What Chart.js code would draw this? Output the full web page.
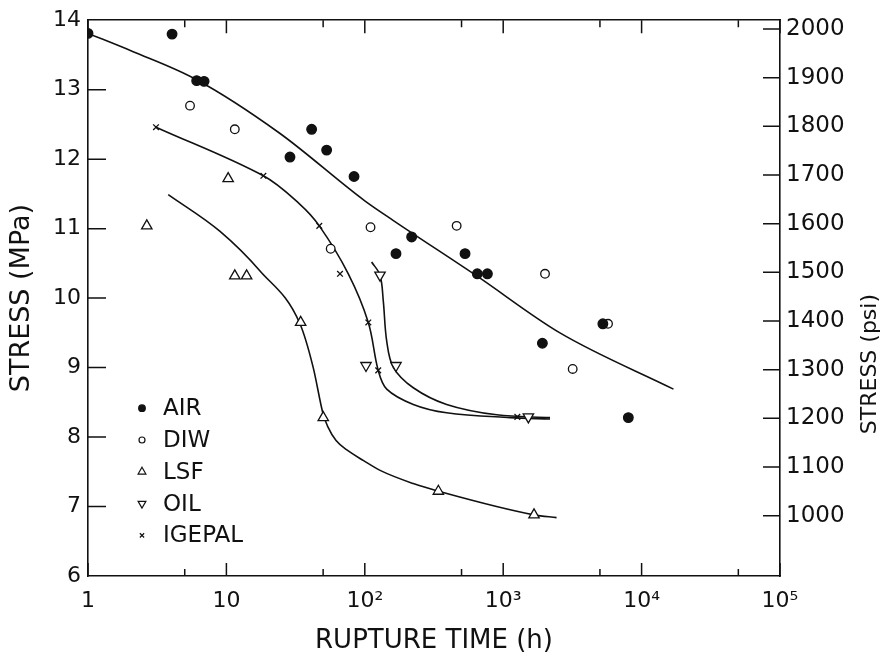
<!DOCTYPE html>
<html><head><meta charset="utf-8">
<script src="https://cdn.jsdelivr.net/npm/chart.js@4.4.0/dist/chart.umd.min.js"></script>
<style>html,body{margin:0;padding:0;background:#fff}#wrap{width:886px;height:659px}</style>
</head><body><div id="wrap"><canvas id="c"></canvas></div>
<script>
// ---- data ----
const seriesNames = ['AIR', 'DIW', 'LSF', 'OIL', 'IGEPAL'];

const airTime   = [1, 4.05, 6.1, 6.9, 28.8, 41.3, 53, 83.6, 168, 218, 530, 650, 769, 1919, 5250, 8020];
const airStress = [13.81, 13.80, 13.13, 13.12, 12.03, 12.43, 12.13, 11.75, 10.64, 10.88, 10.64, 10.35, 10.35, 9.35, 9.63, 8.28];

const diwTime   = [5.46, 11.5, 56.7, 110, 461, 2005, 3177, 5720];
const diwStress = [12.77, 12.43, 10.71, 11.02, 11.04, 10.35, 8.98, 9.63];

const lsfTime   = [2.66, 10.3, 11.5, 14.0, 34.4, 50.1, 340, 1670];
const lsfStress = [11.04, 11.72, 10.32, 10.32, 9.65, 8.28, 7.22, 6.88];

const oilTime   = [102, 128.8, 168, 1520];
const oilStress = [9.03, 10.33, 9.03, 8.29];

const igTime    = [3.1, 18.5, 46.9, 66.2, 106, 125, 1265];
const igStress  = [12.46, 11.76, 11.04, 10.35, 9.65, 8.96, 8.29];

// hand-drawn fit curves
const airFitTime   = [1, 2.1, 6, 24, 100, 160, 644, 2570, 17000];
const airFitStress = [13.81, 13.55, 13.15, 12.38, 11.4, 11.12, 10.32, 9.5, 8.69];

const igFitTime    = [3.1, 18.5, 34, 46.9, 76, 106, 125, 144, 224, 390, 1120, 2180];
const igFitStress  = [12.46, 11.76, 11.35, 11.04, 10.35, 9.65, 8.96, 8.69, 8.47, 8.35, 8.28, 8.26];

const oilFitTime   = [112, 128.8, 136, 144, 161, 224, 390, 898, 2180];
const oilFitStress = [10.52, 10.33, 9.96, 9.38, 9.0, 8.71, 8.47, 8.32, 8.28];

const lsfFitTime   = [3.8, 9, 17.5, 34, 42.4, 50, 54, 62, 76, 98, 129, 224, 340, 1670, 2430];
const lsfFitStress = [11.49, 10.96, 10.39, 9.63, 9.0, 8.33, 8.15, 7.95, 7.8, 7.66, 7.52, 7.33, 7.22, 6.88, 6.84];

// ticks
const xTickValues = [1, 10, 100, 1000, 10000, 100000];
const xTickLabels = ['1', '10', '10²', '10³', '10⁴', '10⁵'];
const xMinorTicks = [5, 50, 500, 5000, 50000];
const mpaTicks = [6, 7, 8, 9, 10, 11, 12, 13, 14];
const psiTicks = [1000, 1100, 1200, 1300, 1400, 1500, 1600, 1700, 1800, 1900, 2000];
const psiRange = [876, 2018];

// ---- build ----
const INK = '#111';
const pts = (xs, ys) => xs.map((x, i) => ({x, y: ys[i]}));

function markers(label, xs, ys, style) {
  return Object.assign({
    type: 'scatter', label, data: pts(xs, ys), showLine: false,
    borderColor: INK, pointBorderColor: INK, borderWidth: 1.3, pointBorderWidth: 1.3,
    isMarker: true, order: 1
  }, style);
}
function curve(xs, ys, smooth) {
  return Object.assign({
    type: 'line', label: '', data: pts(xs, ys), borderColor: INK, borderWidth: 1.6,
    pointRadius: 0, fill: false, order: 2, isMarker: false
  }, smooth);
}

const datasets = [
  markers(seriesNames[0], airTime, airStress, {pointStyle: 'circle', pointRadius: 4.8, pointBackgroundColor: INK, backgroundColor: INK}),
  markers(seriesNames[1], diwTime, diwStress, {pointStyle: 'circle', pointRadius: 4.3, pointBackgroundColor: '#fff', backgroundColor: '#fff'}),
  markers(seriesNames[2], lsfTime, lsfStress, {pointStyle: 'triangle', pointRadius: 6, pointBackgroundColor: '#fff', backgroundColor: '#fff'}),
  markers(seriesNames[3], oilTime, oilStress, {pointStyle: 'triangle', pointRotation: 180, pointRadius: 6, pointBackgroundColor: '#fff', backgroundColor: '#fff'}),
  markers(seriesNames[4], igTime, igStress, {pointStyle: 'crossRot', pointRadius: 4, pointBackgroundColor: INK, backgroundColor: INK}),
  curve(airFitTime, airFitStress, {cubicInterpolationMode: 'monotone'}),
  curve(igFitTime, igFitStress, {tension: 0.35}),
  curve(oilFitTime, oilFitStress, {tension: 0.35}),
  curve(lsfFitTime, lsfFitStress, {cubicInterpolationMode: 'monotone'})
];

const frameDecor = {
  id: 'frameDecor',
  afterDatasetsDraw(chart) {
    const {ctx, chartArea: a, scales} = chart;
    ctx.save();
    ctx.strokeStyle = INK; ctx.lineWidth = 1.5; ctx.lineCap = 'butt';
    ctx.beginPath();
    xTickValues.forEach(v => {
      const p = scales.x.getPixelForValue(v);
      ctx.moveTo(p, a.bottom); ctx.lineTo(p, a.bottom - 13);
      ctx.moveTo(p, a.top); ctx.lineTo(p, a.top + 13);
    });
    xMinorTicks.forEach(v => {
      const p = scales.x.getPixelForValue(v);
      ctx.moveTo(p, a.bottom); ctx.lineTo(p, a.bottom - 7);
      ctx.moveTo(p, a.top); ctx.lineTo(p, a.top + 7);
    });
    mpaTicks.slice(1, -1).forEach(v => {
      const p = scales.y.getPixelForValue(v);
      ctx.moveTo(a.left, p); ctx.lineTo(a.left + 18, p);
    });
    psiTicks.forEach(v => {
      const p = scales.y2.getPixelForValue(v);
      ctx.moveTo(a.right, p); ctx.lineTo(a.right - 17, p);
    });
    ctx.stroke();
    ctx.restore();

    // right axis title, reading bottom-to-top
    ctx.save();
    ctx.fillStyle = INK; ctx.font = '22px "DejaVu Sans"';
    ctx.textAlign = 'center'; ctx.textBaseline = 'middle';
    ctx.translate(a.right + 90, (a.top + a.bottom) / 2 + 66);
    ctx.rotate(-Math.PI / 2);
    ctx.fillText('STRESS (psi)', 0, 0);
    ctx.restore();

    // legend inside the plot
    ctx.save();
    ctx.font = '23px "DejaVu Sans"'; ctx.textAlign = 'left'; ctx.textBaseline = 'middle';
    let row = 0;
    chart.data.datasets.forEach(ds => {
      if (!ds.isMarker) return;
      const y = a.top + 388 + row * 31.8;
      const x = a.left + 54;
      ctx.fillStyle = ds.pointBackgroundColor; ctx.strokeStyle = INK; ctx.lineWidth = 1.2;
      Chart.helpers.drawPoint(ctx, {
        pointStyle: ds.pointStyle, rotation: ds.pointRotation || 0,
        radius: Math.max(3, ds.pointRadius - 1.5), borderWidth: 1.2
      }, x, y);
      ctx.fillStyle = INK;
      ctx.fillText(ds.label, x + 21, y + 1);
      row++;
    });
    ctx.restore();
  }
};

Chart.defaults.font.family = '"DejaVu Sans", sans-serif';
Chart.defaults.color = INK;

new Chart(document.getElementById('c'), {
  data: {datasets},
  options: {
    responsive: true, maintainAspectRatio: false, animation: false,
    layout: {padding: {top: 20, left: 0, right: 0, bottom: 0}},
    plugins: {legend: {display: false}, tooltip: {enabled: false}},
    scales: {
      x: {
        type: 'logarithmic', position: 'bottom', min: 1, max: 100000,
        afterBuildTicks: s => { s.ticks = xTickValues.map(v => ({value: v})); },
        afterFit: s => { s.height = 83; },
        ticks: {
          autoSkip: false, maxRotation: 0, padding: 12, font: {size: 22},
          callback: (v) => { const i = xTickValues.indexOf(v); return i >= 0 ? xTickLabels[i] : ''; }
        },
        grid: {drawOnChartArea: false, drawTicks: false},
        border: {display: true, color: INK, width: 1.6},
        title: {display: true, text: 'RUPTURE TIME (h)', font: {size: 26}, padding: {top: 0, bottom: 2}}
      },
      xTop: {
        type: 'logarithmic', position: 'top', min: 1, max: 100000,
        afterFit: s => { s.height = 0; },
        ticks: {display: false},
        grid: {drawOnChartArea: false, drawTicks: false},
        border: {display: true, color: INK, width: 1.6}
      },
      y: {
        type: 'linear', position: 'left', min: 6, max: 14,
        afterBuildTicks: s => { s.ticks = mpaTicks.map(v => ({value: v})); },
        afterFit: s => { s.width = 88; },
        ticks: {padding: 7, font: {size: 22}, callback: v => String(v)},
        grid: {drawOnChartArea: false, drawTicks: false},
        border: {display: true, color: INK, width: 1.6},
        title: {display: true, text: 'STRESS (MPa)', font: {size: 27}, padding: {top: 6, bottom: 0}}
      },
      y2: {
        type: 'linear', position: 'right', min: psiRange[0], max: psiRange[1],
        afterBuildTicks: s => { s.ticks = psiTicks.map(v => ({value: v})); },
        afterFit: s => { s.width = 106; },
        ticks: {padding: 6, font: {size: 23}, callback: v => String(v)},
        grid: {drawOnChartArea: false, drawTicks: false},
        border: {display: true, color: INK, width: 1.6}
      }
    }
  },
  plugins: [frameDecor]
});
</script>
</body></html>
